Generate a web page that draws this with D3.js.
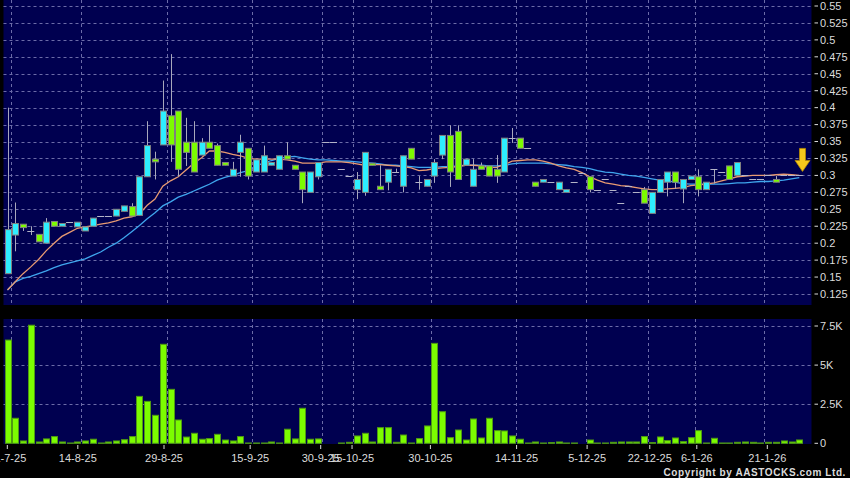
<!DOCTYPE html>
<html>
<head>
<meta charset="utf-8">
<script src="https://cdn.jsdelivr.net/npm/d3@7"></script>
<style>
  body { margin: 0; background: #000; }
  svg { display: block; font-family: Arial, "Liberation Sans", sans-serif; }
</style>
</head>
<body>
<script>
// daily OHLC (bar 0 = first visible day)
var opens  = [.155,.212,.228,.218,.213,.20,.232,.225,.231,.224,.218,.225,.24,.24,.24,.247,.254,.241,.298,.324,
              .345,.388,.395,.349,.349,.33,.349,.344,.319,.299,.334,.34,.305,.305,.315,.309,.329,.315,.305,.275,
              .298,.349,.349,.309,.299,.279,.275,.318,.284,.29,.305,.284,.34,.291,.284,.299,.33,.359,.365,.315,
              .284,.314,.314,.309,.305,.355,.355,.34,.29,.29,.291,.279,.275,.291,.303,.298,.279,.294,.279,.26,
              .284,.275,.279,.244,.275,.29,.305,.28,.294,.298,.279,.309,.305,.314,.30,.30,.295,.295,.30,.294,
              .30,.30,.30];
var highs  = [.40,.26,.228,.225,.213,.237,.232,.229,.231,.231,.224,.237,.24,.24,.25,.255,.259,.298,.38,.335,
              .44,.479,.395,.385,.38,.355,.374,.347,.319,.32,.36,.34,.323,.344,.319,.329,.349,.315,.305,.305,
              .319,.349,.349,.309,.299,.305,.334,.318,.315,.309,.31,.329,.34,.299,.294,.324,.359,.374,.374,.324,
              .324,.319,.314,.33,.355,.37,.355,.34,.29,.294,.291,.29,.279,.291,.303,.298,.279,.294,.279,.26,
              .284,.275,.283,.275,.294,.305,.305,.294,.299,.309,.29,.309,.305,.314,.319,.30,.295,.295,.30,.299,
              .30,.30,.30];
var lows   = [.155,.188,.218,.212,.202,.20,.225,.225,.231,.224,.218,.225,.24,.24,.24,.247,.24,.241,.298,.294,
              .345,.32,.298,.314,.305,.33,.34,.315,.315,.299,.298,.294,.305,.305,.315,.309,.324,.309,.259,.275,
              .294,.349,.349,.309,.299,.265,.27,.315,.279,.278,.305,.275,.324,.279,.284,.289,.324,.283,.294,.315,
              .284,.309,.299,.289,.305,.348,.34,.34,.284,.29,.291,.279,.275,.291,.303,.275,.279,.294,.279,.26,
              .284,.275,.259,.244,.275,.269,.28,.259,.294,.269,.279,.288,.305,.294,.30,.30,.295,.295,.30,.29,
              .30,.30,.30];
var closes = [.22,.229,.223,.218,.202,.231,.225,.229,.231,.231,.224,.237,.24,.24,.25,.255,.24,.298,.344,.32,
              .395,.345,.309,.334,.305,.349,.34,.315,.315,.309,.349,.299,.323,.329,.319,.329,.324,.309,.279,.305,
              .319,.349,.349,.309,.299,.294,.334,.315,.279,.309,.305,.329,.324,.291,.294,.319,.359,.305,.294,.324,
              .309,.309,.299,.299,.355,.355,.34,.34,.284,.294,.291,.29,.279,.291,.303,.279,.279,.294,.279,.26,
              .284,.275,.259,.275,.294,.305,.29,.294,.299,.279,.29,.309,.305,.294,.319,.30,.295,.295,.30,.29,
              .30,.30,.30];

// daily volume (shares)
var volumes = [6600,1600,150,7550,85,280,430,85,20,85,150,260,20,85,150,230,430,3000,2680,1790,
               6330,3450,1490,400,640,260,300,575,210,150,430,20,20,20,85,20,900,280,2240,260,
               280,0,0,20,64,470,640,85,1000,1000,64,530,20,300,1110,6390,2020,360,850,210,
               1555,340,1600,810,790,470,260,20,85,20,43,85,20,20,0,210,20,20,64,85,
               85,85,430,43,405,170,340,107,360,810,20,320,20,20,64,85,64,20,64,64,
               150,85,213];

// 10-day (orange) and 20-day (blue) averages
var ma10 = [.131,.143,.155,.165,.176,.189,.200,.210,.216,.222,.224,.226,.228,.230,.233,.237,.239,.243,.256,.265,
            .284,.292,.298,.308,.318,.326,.336,.336,.334,.331,.329,.325,.324,.324,.324,.324,.323,.321,.318,.318,
            .318,.320,.320,.320,.319,.317,.315,.316,.316,.315,.314,.313,.311,.307,.308,.310,.311,.312,.313,.315,
            .315,.314,.312,.312,.316,.321,.322,.323,.323,.321,.318,.314,.311,.309,.304,.298,.293,.289,.287,.285,
            .284,.282,.280,.279,.279,.280,.281,.282,.285,.286,.287,.289,.292,.295,.298,.299,.300,.300,.300,.301,
            .302,.301,.300];
var ma20 = [.131,.143,.148,.151,.155,.159,.164,.168,.171,.174,.177,.182,.187,.194,.200,.208,.217,.226,.236,.245,
            .255,.261,.268,.272,.277,.282,.287,.293,.297,.300,.304,.307,.314,.318,.322,.325,.327,.328,.326,.324,
            .323,.323,.322,.321,.321,.320,.319,.318,.317,.315,.315,.314,.313,.312,.312,.312,.313,.313,.314,.315,
            .315,.315,.314,.314,.315,.317,.318,.318,.318,.318,.317,.316,.315,.313,.312,.310,.307,.305,.304,.302,
            .300,.299,.297,.295,.293,.292,.290,.288,.287,.287,.287,.287,.287,.288,.289,.289,.290,.291,.291,.292,
            .293,.295,.2966];

var priceTicks = [0.125,0.15,0.175,0.2,0.225,0.25,0.275,0.3,0.325,0.35,0.375,0.4,0.425,0.45,0.475,0.5,0.525,0.55];
var volTicks = [0, 2500, 5000, 7500];
var volTickLabels = ["0", "2.5K", "5K", "7.5K"];
var dateLabels = ["31-7-25","14-8-25","29-8-25","15-9-25","30-9-25","15-10-25","30-10-25","14-11-25","5-12-25","22-12-25","6-1-26","21-1-26"];
var dateIdx = [0, 9, 20, 31, 40, 44, 54, 65, 74, 82, 88, 97];

var width = 850, height = 478;
var cyan = "#2eeeff", green = "#7cfc00", panelBg = "#000050", gridCol = "#6c6ca8", textCol = "#dcdcdc";

var svg = d3.select("body").append("svg")
  .attr("width", width)
  .attr("height", height);

// scales
var n = closes.length;
var x = d3.scaleLinear().domain([0, n - 1]).range([7.5, 799.3]);   // bar centres
var step = x(1) - x(0);
var xLab = d3.scaleLinear().domain([0, 97]).range([7.3, 767.3]);   // label slots drift a bit from the bars
var yP = d3.scaleLinear().domain([0.125, 0.55]).range([294, 6]);
var yV = d3.scaleLinear().domain([0, 7500]).range([443.3, 326]);

var left = 3.5, right = 811.5;

// panels
svg.append("rect").attr("x", left).attr("y", 0).attr("width", right - left).attr("height", 305).attr("fill", panelBg);
svg.append("rect").attr("x", left).attr("y", 319).attr("width", right - left).attr("height", 125).attr("fill", panelBg);

// grid
var grid = svg.append("g")
  .attr("stroke", gridCol)
  .attr("stroke-width", 1)
  .attr("stroke-dasharray", "3,3");

grid.selectAll(".hp").data(priceTicks).enter().append("line")
  .attr("x1", left).attr("x2", right)
  .attr("y1", function(d) { return Math.round(yP(d)) + 0.5; })
  .attr("y2", function(d) { return Math.round(yP(d)) + 0.5; });

grid.selectAll(".hv").data(volTicks.slice(1)).enter().append("line")
  .attr("x1", left).attr("x2", right)
  .attr("y1", function(d) { return Math.round(yV(d)) + 0.5; })
  .attr("y2", function(d) { return Math.round(yV(d)) + 0.5; });

dateIdx.forEach(function(i) {
  var gx = Math.round(x(i) + step / 2) + 0.5;
  grid.append("line").attr("x1", gx).attr("x2", gx).attr("y1", 0).attr("y2", 305);
  grid.append("line").attr("x1", gx).attr("x2", gx).attr("y1", 319).attr("y2", 444);
});

// moving averages
var line = d3.line()
  .x(function(d, i) { return x(i); })
  .y(function(d) { return yP(d); });

svg.append("path").datum(ma20)
  .attr("d", line).attr("fill", "none")
  .attr("stroke", "#3fa6ee").attr("stroke-width", 1.3);

svg.append("path").datum(ma10)
  .attr("d", line).attr("fill", "none")
  .attr("stroke", "#e89a72").attr("stroke-width", 1.3);

// candles
var idx = d3.range(n);
var bw = 6;

svg.append("g").selectAll("line").data(idx).enter().append("line")
  .filter(function(i) { return highs[i] > lows[i]; })
  .attr("x1", function(i) { return Math.round(x(i)) + 0.5; })
  .attr("x2", function(i) { return Math.round(x(i)) + 0.5; })
  .attr("y1", function(i) { return yP(highs[i]); })
  .attr("y2", function(i) { return yP(lows[i]); })
  .attr("stroke", "#a8a8bc")
  .attr("stroke-width", 1);

var bodies = idx.filter(function(i) { return closes[i] !== opens[i]; });
var flats = idx.filter(function(i) { return closes[i] === opens[i]; });

svg.append("g").selectAll("rect").data(bodies).enter().append("rect")
  .attr("x", function(i) { return Math.round(x(i) - bw / 2) + 0.5; })
  .attr("y", function(i) { return yP(Math.max(opens[i], closes[i])); })
  .attr("width", bw)
  .attr("height", function(i) { return Math.max(1, Math.abs(yP(opens[i]) - yP(closes[i]))); })
  .attr("fill", function(i) { return closes[i] > opens[i] ? cyan : green; })
  .attr("stroke", "#808080")
  .attr("stroke-width", 1);

svg.append("g").selectAll("line").data(flats).enter().append("line")
  .attr("x1", function(i) { return x(i) - 3.5; })
  .attr("x2", function(i) { return x(i) + 3.5; })
  .attr("y1", function(i) { return Math.round(yP(closes[i])) + 0.5; })
  .attr("y2", function(i) { return Math.round(yP(closes[i])) + 0.5; })
  .attr("stroke", "#b4b4c8")
  .attr("stroke-width", 1);

// last price arrow
var ax = x(n - 1) + 3.2, ay = yP(closes[n - 1]) - 4;
svg.append("path")
  .attr("d", "M" + (ax - 3) + "," + (ay - 23) + "H" + (ax + 3) + "V" + (ay - 11) + "H" + (ax + 7.5) +
             "L" + ax + "," + ay + "L" + (ax - 7.5) + "," + (ay - 11) + "H" + (ax - 3) + "Z")
  .attr("fill", "#f6c81c")
  .attr("stroke", "#b88a00")
  .attr("stroke-width", 0.8);

// volume bars
svg.append("g").selectAll("rect").data(idx).enter().append("rect")
  .filter(function(i) { return volumes[i] > 0; })
  .attr("x", function(i) { return Math.round(x(i) - bw / 2) + 0.5; })
  .attr("y", function(i) { return yV(volumes[i]); })
  .attr("width", bw)
  .attr("height", function(i) { return yV(0) - yV(volumes[i]); })
  .attr("fill", green)
  .attr("stroke", "#4f9a12")
  .attr("stroke-width", 1);

// right axes
var fmt = function(d) { return String(+d.toFixed(3)); };

var pa = svg.append("g").attr("fill", textCol).attr("font-size", "11px");
priceTicks.forEach(function(d) {
  pa.append("line").attr("x1", 814.5).attr("x2", 818).attr("y1", yP(d)).attr("y2", yP(d)).attr("stroke", textCol);
  pa.append("text").attr("x", 820).attr("y", yP(d)).attr("dy", "0.35em").text(fmt(d));
});
volTicks.forEach(function(d, k) {
  pa.append("line").attr("x1", 814.5).attr("x2", 818).attr("y1", yV(d)).attr("y2", yV(d)).attr("stroke", textCol);
  pa.append("text").attr("x", 820).attr("y", yV(d)).attr("dy", "0.35em").text(volTickLabels[k]);
});

// date axis
dateIdx.forEach(function(i, k) {
  var lx = xLab(i);
  pa.append("line").attr("x1", lx).attr("x2", lx).attr("y1", 445).attr("y2", 449).attr("stroke", textCol);
  pa.append("text").attr("x", lx).attr("y", 462).attr("text-anchor", "middle").text(dateLabels[k]);
});

svg.append("text")
  .attr("x", 846).attr("y", 476)
  .attr("text-anchor", "end")
  .attr("fill", textCol)
  .attr("font-size", "10px")
  .attr("font-weight", "bold")
  .attr("letter-spacing", "0.6px")
  .text("Copyright by AASTOCKS.com Ltd.");
</script>
</body>
</html>
